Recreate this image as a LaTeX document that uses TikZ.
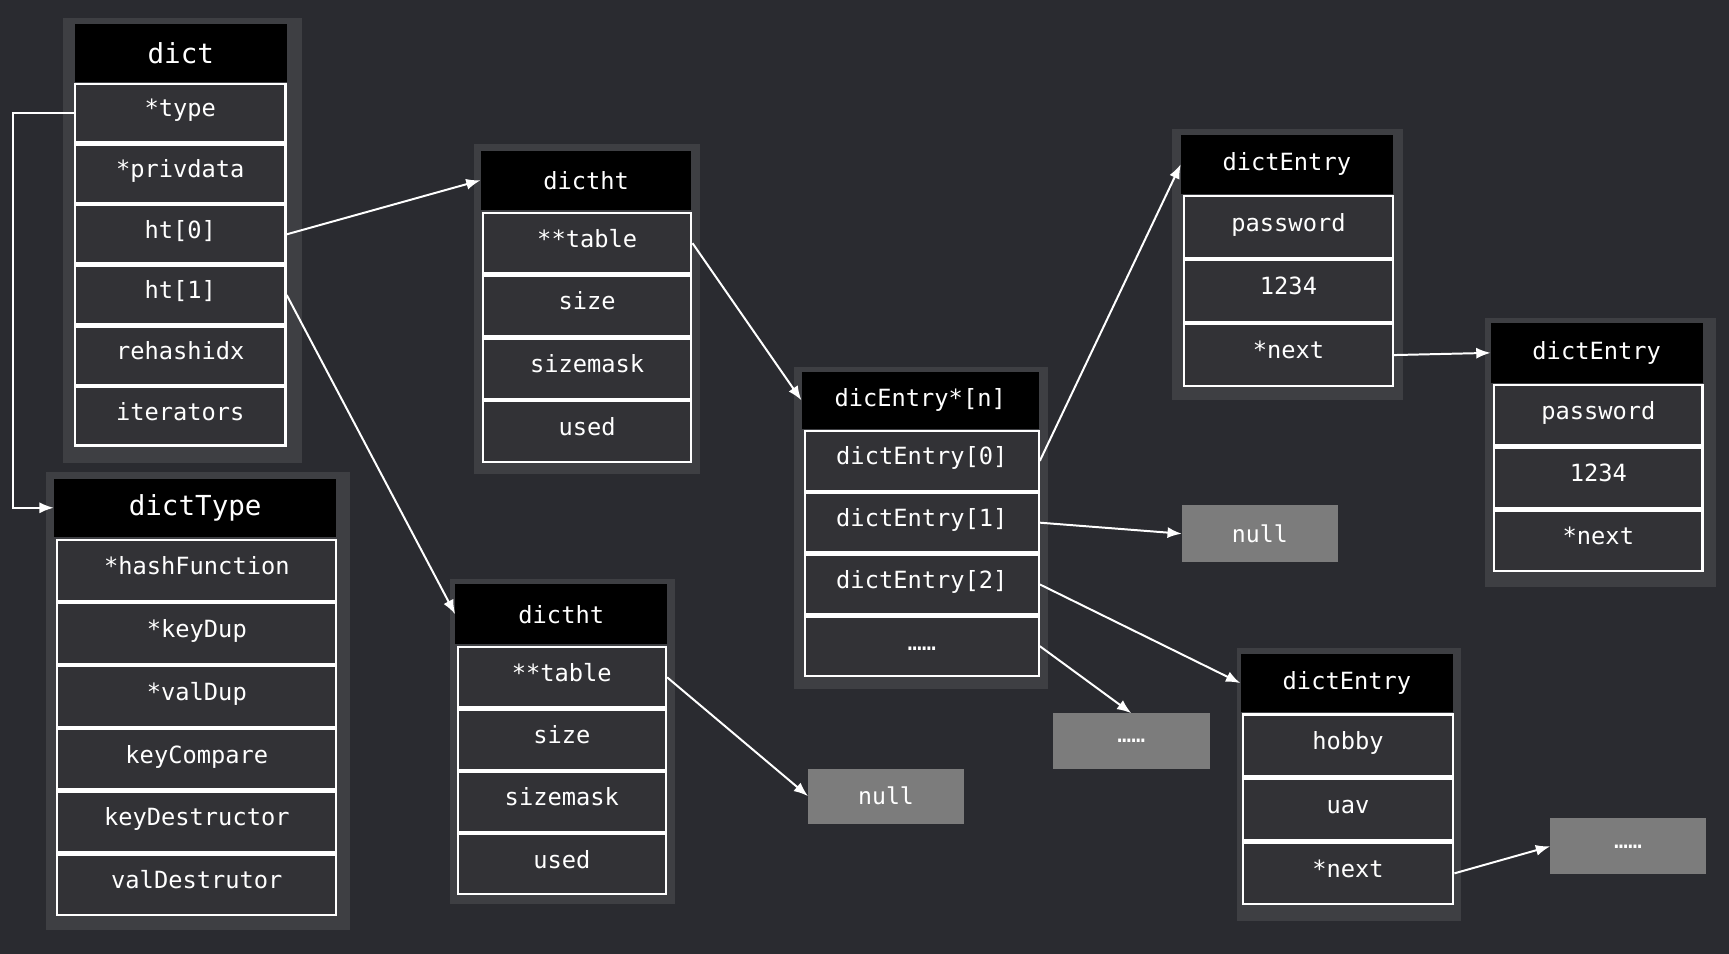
\documentclass[tikz,border=0pt]{standalone}
\usepackage{fontspec}
\setmonofont{DejaVu Sans Mono}
\usetikzlibrary{arrows.meta}

\definecolor{bggray}{RGB}{42,43,48}
\definecolor{panelgray}{RGB}{62,63,67}
\definecolor{fieldgray}{RGB}{50,50,54}
\definecolor{nullgray}{RGB}{124,124,124}

\tikzset{
    panel/.style={fill=panelgray},
    head/.style={fill=black, text=white, inner sep=0pt,
        font=\ttfamily\fontsize{21.5}{24}\selectfont},
    bighead/.style={head, font=\ttfamily\fontsize{25}{28}\selectfont},
    field/.style={draw=white, line width=2pt, fill=fieldgray, text=white,
        inner sep=0pt, text height=16pt, text depth=9pt,
        font=\ttfamily\fontsize{21.5}{24}\selectfont},
    nullbox/.style={fill=nullgray, text=white, inner sep=0pt,
        font=\ttfamily\fontsize{21}{24}\selectfont},
    link/.style={draw=white, line width=1.8pt, -{Latex[length=13pt, width=10pt]}}
}

\begin{document}
\begin{tikzpicture}[x=1pt, y=-1pt]
    % background
    \fill[bggray] (0,0) rectangle (1568,865);
    \useasboundingbox (0,0) rectangle (1568,865);

    % draw panels
    \fill[panel] (57,16) rectangle (274,420);
    \fill[panel] (42,428) rectangle (317,843);
    \fill[panel] (430,131) rectangle (635,430);
    \fill[panel] (408,525) rectangle (612,820);
    \fill[panel] (720,333) rectangle (950,625);
    \fill[panel] (1063,117) rectangle (1272,363);
    \fill[panel] (1347,288) rectangle (1556,532);
    \fill[panel] (1122,588) rectangle (1325,835);

    % dict
    \node[bighead, minimum width=192pt, minimum height=52pt] (dict) at (164,48) {dict};
    \foreach \t [count=\i] in {*type,*privdata,ht[0],ht[1],rehashidx,iterators}
        \node[field, minimum width=191pt, minimum height=53pt] (dict-\i) at (163.5, {47.5+55*\i}) {\t};

    % dictType
    \node[bighead, minimum width=256pt, minimum height=53pt] (dtype) at (177,460.5) {dictType};
    \foreach \t [count=\i] in {*hashFunction,*keyDup,*valDup,keyCompare,keyDestructor,valDestrutor}
        \node[field, minimum width=253pt, minimum height=55pt] (dtype-\i) at (178.5, {460.5+57*\i}) {\t};

    % dictht for ht[0]
    \node[head, minimum width=191pt, minimum height=53pt] (ht0) at (531.5,163.5) {dictht};
    \foreach \t [count=\i] in {**table,size,sizemask,used}
        \node[field, minimum width=189pt, minimum height=55pt] (ht0-\i) at (532.5, {163.5+57*\i}) {\t};

    % dictht for ht[1]
    \node[head, minimum width=192pt, minimum height=54pt] (ht1) at (509,557) {dictht};
    \foreach \t [count=\i] in {**table,size,sizemask,used}
        \node[field, minimum width=189pt, minimum height=54.5pt] (ht1-\i) at (509.5, {557.75+56.5*\i}) {\t};

    % table of entries
    \node[head, minimum width=215pt, minimum height=52pt] (tbl) at (834.5,363) {dicEntry*[n]};
    \foreach \t [count=\i] in {dictEntry[0],dictEntry[1],dictEntry[2],……}
        \node[field, minimum width=212pt, minimum height=54pt] (tbl-\i) at (836, {362+56*\i}) {\t};

    % entries
    \node[head, minimum width=192pt, minimum height=54pt] (ent0) at (1167,149) {dictEntry};
    \foreach \t [count=\i] in {password,1234,*next}
        \node[field, minimum width=189pt, minimum height=56pt] (ent0-\i) at (1168.5, {148+58*\i}) {\t};

    \node[head, minimum width=192pt, minimum height=54pt] (ent1) at (1448,320) {dictEntry};
    \foreach \t [count=\i] in {password,1234,*next}
        \node[field, minimum width=189pt, minimum height=55pt] (ent1-\i) at (1449.5, {319.5+57*\i}) {\t};

    \node[head, minimum width=193pt, minimum height=53pt] (ent2) at (1221.5,619.5) {dictEntry};
    \foreach \t [count=\i] in {hobby,uav,*next}
        \node[field, minimum width=191pt, minimum height=56pt] (ent2-\i) at (1222.5, {618+58*\i}) {\t};

    % null and more
    \node[nullbox, minimum width=141pt, minimum height=52pt] (null0) at (1142.5,484) {null};
    \node[nullbox, minimum width=141pt, minimum height=50pt] (null1) at (803.5,722) {null};
    \node[nullbox, minimum width=142pt, minimum height=50pt] (more0) at (1026,672) {……};
    \node[nullbox, minimum width=141pt, minimum height=51pt] (more1) at (1476.5,767.5) {……};

    % draw links
    \draw[link] (dict-1.west) -- ++(-55,0) |- (dtype.west);
    \draw[link] (dict-3.east) -- (ht0.west);
    \draw[link] (dict-4.east) -- (ht1.west);
    \draw[link] (ht0-1.east) -- (tbl.west);
    \draw[link] (ht1-1.east) -- (null1.west);
    \draw[link] (tbl-1.east) -- (ent0.west);
    \draw[link] (tbl-2.east) -- (null0.west);
    \draw[link] (tbl-3.east) -- (ent2.west);
    \draw[link] (tbl-4.east) -- (more0.north);
    \draw[link] (ent0-3.east) -- (ent1.west);
    \draw[link] (ent2-3.east) -- (more1.west);
\end{tikzpicture}
\end{document}
